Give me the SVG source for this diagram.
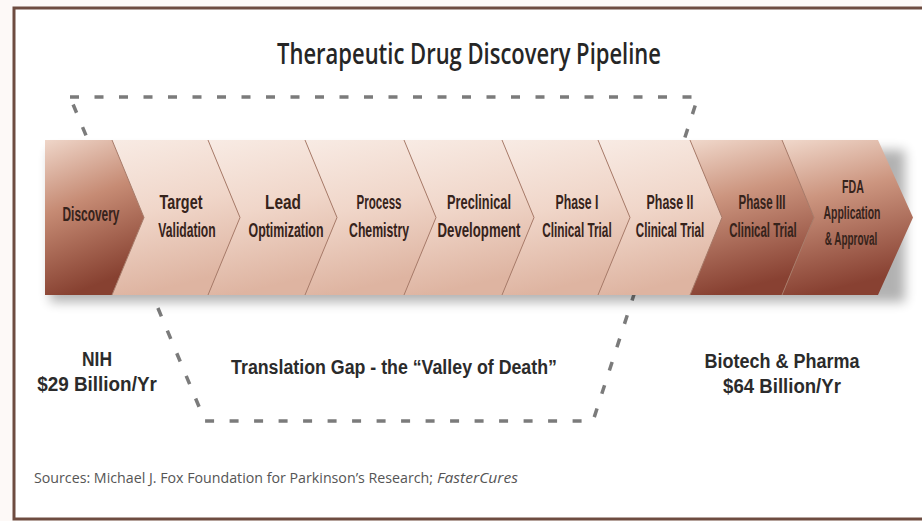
<svg xmlns="http://www.w3.org/2000/svg" width="922" height="521" viewBox="0 0 922 521">
  <defs>
    <linearGradient id="gDark" x1="0" y1="0" x2="0.25" y2="1">
      <stop offset="0" stop-color="#efd6c9"/>
      <stop offset="0.45" stop-color="#c68b74"/>
      <stop offset="1" stop-color="#874131"/>
    </linearGradient>
    <linearGradient id="gLight" x1="0" y1="0" x2="0.2" y2="1">
      <stop offset="0" stop-color="#f8ebe4"/>
      <stop offset="0.5" stop-color="#f0d6c9"/>
      <stop offset="1" stop-color="#deb4a1"/>
    </linearGradient>
    <linearGradient id="gDarkR" x1="0" y1="0" x2="0.2" y2="1">
      <stop offset="0" stop-color="#f0d8cb"/>
      <stop offset="0.4" stop-color="#cc957f"/>
      <stop offset="1" stop-color="#884132"/>
    </linearGradient>
    <filter id="blur" x="-10%" y="-30%" width="120%" height="160%">
      <feGaussianBlur stdDeviation="6"/>
    </filter>
    <style>
      .seg{font-family:"Liberation Sans",Arial,sans-serif;font-weight:700;font-size:21px;fill:#36231b;text-anchor:middle}
      .fda{font-size:19px}
      .sep{fill:none;stroke:#a87a68;stroke-width:1}
      .big{font-family:"Liberation Sans",Arial,sans-serif;font-weight:700;font-size:21px;fill:#2b2b2b;text-anchor:middle}
      .dash{fill:none;stroke:#7b7b7b;stroke-width:3.5;stroke-dasharray:9 15.5}
      .src{font-family:"Open Sans","Liberation Sans",sans-serif;font-size:14px;fill:#555555}
    </style>
  </defs>

  <rect x="0" y="0" width="922" height="521" fill="#fdf9f7"/>
  <rect x="14" y="8" width="1000" height="511" fill="#ffffff" stroke="#6e4c40" stroke-width="3"/>

  <text x="469" y="64" font-family="'Open Sans','Liberation Sans',sans-serif" font-weight="600" font-size="29" fill="#262626" text-anchor="middle" textLength="384" lengthAdjust="spacingAndGlyphs">Therapeutic Drug Discovery Pipeline</text>

  <g id="gap">
    <path class="dash" d="M70,97 L698,97 L593,421 L205,421 Z"/>
  </g>

  <rect x="50" y="150" width="855" height="152" fill="#000" opacity="0.3" filter="url(#blur)"/>

  <g id="n1"><path d="M45,140 L112,140 L144,217.5 L112,295 L45,295 Z" fill="url(#gDark)"/>
    <text class="seg" transform="translate(91,221) scale(0.568,1)">Discovery</text></g>
  <g id="n2"><path d="M112,140 L208,140 L240,217.5 L208,295 L112,295 L144,217.5 Z" fill="url(#gLight)"/>
    <text class="seg" transform="translate(181,209) scale(0.685,1)">Target</text>
    <text class="seg" transform="translate(187,237) scale(0.578,1)">Validation</text></g>
  <g id="n3"><path d="M208,140 L305,140 L337,217.5 L305,295 L208,295 L240,217.5 Z" fill="url(#gLight)"/>
    <text class="seg" transform="translate(283,209) scale(0.735,1)">Lead</text>
    <text class="seg" transform="translate(286,237) scale(0.59,1)">Optimization</text></g>
  <g id="n4"><path d="M305,140 L404,140 L436,217.5 L404,295 L305,295 L337,217.5 Z" fill="url(#gLight)"/>
    <text class="seg" transform="translate(379,209) scale(0.551,1)">Process</text>
    <text class="seg" transform="translate(379,237) scale(0.584,1)">Chemistry</text></g>
  <g id="n5"><path d="M404,140 L502,140 L534,217.5 L502,295 L404,295 L436,217.5 Z" fill="url(#gLight)"/>
    <text class="seg" transform="translate(479,209) scale(0.609,1)">Preclinical</text>
    <text class="seg" transform="translate(479,237) scale(0.629,1)">Development</text></g>
  <g id="n6"><path d="M502,140 L598,140 L630,217.5 L598,295 L502,295 L534,217.5 Z" fill="url(#gLight)"/>
    <text class="seg" transform="translate(577,209) scale(0.585,1)">Phase I</text>
    <text class="seg" transform="translate(577,237) scale(0.561,1)">Clinical Trial</text></g>
  <g id="n7"><path d="M598,140 L690,140 L722,217.5 L690,295 L598,295 L630,217.5 Z" fill="url(#gLight)"/>
    <text class="seg" transform="translate(670,209) scale(0.592,1)">Phase II</text>
    <text class="seg" transform="translate(670,237) scale(0.553,1)">Clinical Trial</text></g>
  <g id="n8"><path d="M690,140 L782,140 L814,217.5 L782,295 L690,295 L722,217.5 Z" fill="url(#gDarkR)"/>
    <text class="seg" transform="translate(762,209) scale(0.552,1)">Phase III</text>
    <text class="seg" transform="translate(763,237) scale(0.545,1)">Clinical Trial</text></g>
  <g id="n9"><path d="M782,140 L878,140 L913,217.5 L878,295 L782,295 L814,217.5 Z" fill="url(#gDarkR)"/>
    <text class="seg fda" transform="translate(853,193) scale(0.56,1)">FDA</text>
    <text class="seg fda" transform="translate(852,219) scale(0.551,1)">Application</text>
    <text class="seg fda" transform="translate(851,245) scale(0.523,1)">&amp; Approval</text></g>

  <g id="connectors">
    <path class="sep" d="M112,140 L144,217.5 L112,295"/>
    <path class="sep" d="M208,140 L240,217.5 L208,295"/>
    <path class="sep" d="M305,140 L337,217.5 L305,295"/>
    <path class="sep" d="M404,140 L436,217.5 L404,295"/>
    <path class="sep" d="M502,140 L534,217.5 L502,295"/>
    <path class="sep" d="M598,140 L630,217.5 L598,295"/>
    <path class="sep" d="M690,140 L722,217.5 L690,295"/>
    <path class="sep" d="M782,140 L814,217.5 L782,295"/>
  </g>

  <g id="nih">
    <text class="big" transform="translate(97,366) scale(0.83,1)">NIH</text>
    <text class="big" transform="translate(97,391) scale(0.9,1)">$29 Billion/Yr</text>
  </g>
  <g id="valley">
    <text class="big" transform="translate(394,374) scale(0.847,1)">Translation Gap - the “Valley of Death”</text>
  </g>
  <g id="pharma">
    <text class="big" transform="translate(782,368) scale(0.857,1)">Biotech &amp; Pharma</text>
    <text class="big" transform="translate(782,393) scale(0.886,1)">$64 Billion/Yr</text>
  </g>

  <text class="src" x="34" y="483" textLength="399" lengthAdjust="spacingAndGlyphs">Sources: Michael J. Fox Foundation for Parkinson’s Research;</text>
  <text class="src" x="437" y="483" font-style="italic" textLength="81" lengthAdjust="spacingAndGlyphs">FasterCures</text>
</svg>
